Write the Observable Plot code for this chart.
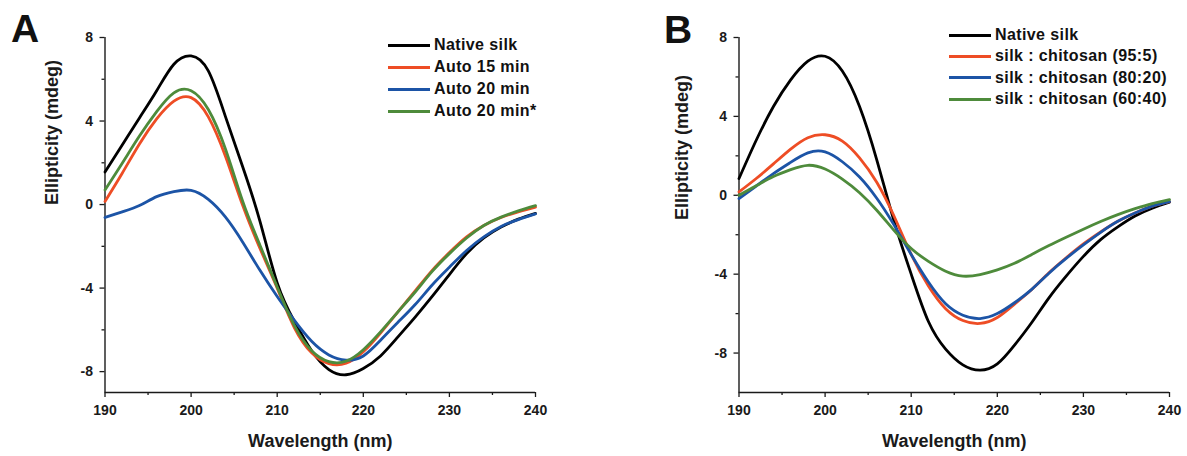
<!DOCTYPE html>
<html><head><meta charset="utf-8">
<script src="https://cdn.jsdelivr.net/npm/d3@7"></script>
<script src="https://cdn.jsdelivr.net/npm/@observablehq/plot@0.6"></script>
<style>
body{margin:0;background:#fff;}
#wrap{position:relative;width:1187px;height:456px;overflow:hidden;font-family:"Liberation Sans",Arial,sans-serif;color:#111;}
.panel{position:absolute;top:0;}
.letter{position:absolute;font-weight:bold;font-size:39px;line-height:39px;}
.legend{position:absolute;font-weight:bold;font-size:16px;letter-spacing:0.4px;}
.legend .row{position:absolute;left:0;white-space:nowrap;display:flex;align-items:center;height:20px;}
.legend .sw{width:42px;height:3px;margin-right:4px;}
</style></head>
<body>
<div id="wrap"></div>
<script>
// ---- data ----
const wavelength = [190,192,194,196,198,200,202,204,206,208,210,212,214,216,218,220,222,224,226,228,230,232,234,236,238,240];

const seriesA = ["Native silk", "Auto 15 min", "Auto 20 min", "Auto 20 min*"];
const seriesB = ["Native silk", "silk : chitosan (95:5)", "silk : chitosan (80:20)", "silk : chitosan (60:40)"];
const colors = ["#000000", "#ee4d25", "#1c54a6", "#4e8b3b"];

// Panel A
const aNative  = [1.56, 2.85, 4.15, 5.45, 6.72, 7.12, 6.4, 4.2, 1.8, -0.8, -3.75, -5.6, -7.0, -7.9, -8.15, -7.85, -7.25, -6.35, -5.4, -4.4, -3.35, -2.35, -1.6, -1.08, -0.7, -0.42];
const aAuto15  = [0.15, 1.5, 2.9, 4.1, 4.95, 5.12, 4.2, 2.3, -0.05, -2.1, -4.0, -5.9, -7.1, -7.62, -7.6, -7.05, -6.15, -5.15, -4.15, -3.15, -2.3, -1.55, -1.0, -0.62, -0.35, -0.12];
const aAuto20  = [-0.62, -0.35, -0.05, 0.38, 0.62, 0.68, 0.25, -0.6, -1.8, -3.15, -4.4, -5.55, -6.55, -7.2, -7.45, -7.25, -6.5, -5.65, -4.8, -3.85, -3.0, -2.2, -1.55, -1.05, -0.72, -0.45];
const aAuto20s = [0.7, 1.98, 3.28, 4.45, 5.35, 5.45, 4.55, 2.65, 0.15, -1.95, -3.95, -5.8, -7.0, -7.52, -7.5, -6.95, -6.1, -5.15, -4.2, -3.2, -2.35, -1.6, -1.0, -0.6, -0.3, -0.05];

// Panel B
const bNative = [0.85, 2.79, 4.5, 5.85, 6.8, 7.05, 6.3, 4.5, 1.8, -1.3, -4.0, -6.4, -7.8, -8.6, -8.87, -8.55, -7.6, -6.45, -5.2, -4.1, -3.1, -2.25, -1.6, -1.05, -0.65, -0.35];
const b95     = [0.17, 0.85, 1.59, 2.34, 2.92, 3.07, 2.75, 1.9, 0.66, -1.05, -3.0, -4.6, -5.75, -6.35, -6.5, -6.2, -5.52, -4.78, -3.93, -3.17, -2.47, -1.86, -1.32, -0.9, -0.55, -0.32];
const b80     = [-0.17, 0.47, 1.1, 1.67, 2.15, 2.2, 1.7, 0.93, -0.15, -1.5, -3.0, -4.4, -5.5, -6.08, -6.25, -6.0, -5.45, -4.77, -3.95, -3.2, -2.52, -1.88, -1.32, -0.9, -0.55, -0.32];
const b60     = [0.0, 0.48, 0.95, 1.3, 1.52, 1.33, 0.82, 0.13, -0.76, -1.78, -2.7, -3.35, -3.85, -4.1, -4.02, -3.78, -3.45, -3.0, -2.55, -2.13, -1.72, -1.33, -0.98, -0.68, -0.42, -0.22];

// ticks
const xTicks = [190, 200, 210, 220, 230, 240];
const xMinor = [195, 205, 215, 225, 235];
const yTicks = [-8, -4, 0, 4, 8];
const yMinor = [-6, -2, 2, 6];
const xTitle = "Wavelength (nm)";
const yTitle = "Ellipticity (mdeg)";

// ---- drawing ----
const wrap = document.getElementById("wrap");
const FONT = '"Liberation Sans", Arial, sans-serif';
const AX = "#1a1a1a";

function panel(names, values, cfg) {
  const rows = names.flatMap((n, i) => wavelength.map((w, j) => ({series: n, w, v: values[i][j]})));
  return Plot.plot({
    width: cfg.width, height: 456,
    marginLeft: cfg.ml, marginRight: cfg.mr, marginTop: 37, marginBottom: 64,
    x: {domain: [190, 240]},
    y: {domain: cfg.yDomain},
    color: {domain: names, range: colors},
    style: {fontFamily: FONT, fontSize: "14px", fontWeight: "bold", color: AX, background: "transparent", overflow: "visible"},
    marks: [
      Plot.axisX(xTicks, {tickSize: 5, tickPadding: 8, fontSize: 14, fontWeight: "bold", label: null, tickFormat: d => String(d), strokeWidth: 1.3}),
      Plot.axisX(xMinor, {tickSize: 3, label: null, tickFormat: () => "", strokeWidth: 1.3}),
      Plot.axisY(yTicks, {tickSize: 5, tickPadding: 7, fontSize: 14, fontWeight: "bold", label: null, tickFormat: d => String(d), strokeWidth: 1.3}),
      Plot.axisY(yMinor, {tickSize: 3, label: null, tickFormat: () => "", strokeWidth: 1.3}),
      Plot.ruleX([190], {stroke: AX, strokeWidth: 1.4}),
      Plot.ruleY([cfg.yDomain[0]], {stroke: AX, strokeWidth: 1.4}),
      Plot.line(rows, {x: "w", y: "v", z: "series", stroke: "series", strokeWidth: 2.8, curve: "natural"}),
      Plot.text([xTitle], {frameAnchor: "bottom", dy: 54, fontSize: 18, fontWeight: "bold", fill: AX}),
      Plot.text([yTitle], {frameAnchor: "left", dx: cfg.ytdx, dy: cfg.ytdy, rotate: -90, fontSize: 18, fontWeight: "bold", fill: AX})
    ]
  });
}

function place(el, left) {
  el.classList.add("panel");
  el.style.left = left + "px";
  wrap.appendChild(el);
}

place(panel(seriesA, [aNative, aAuto15, aAuto20, aAuto20s], {width: 594, ml: 104.5, mr: 59, yDomain: [-9, 8], ytdx: -53, ytdy: -10}), 0);
place(panel(seriesB, [bNative, b95, b80, b60], {width: 593, ml: 144.5, mr: 18, yDomain: [-10, 8], ytdx: -57, ytdy: 5}), 594);

function letter(t, left, top) {
  const d = document.createElement("div");
  d.className = "letter"; d.textContent = t;
  d.style.left = left + "px"; d.style.top = top + "px";
  wrap.appendChild(d);
}
letter("A", 11, 9);
letter("B", 664, 10);

function legend(names, left, tops) {
  const g = document.createElement("div");
  g.className = "legend"; g.style.left = left + "px"; g.style.top = "0px";
  names.forEach((n, i) => {
    const r = document.createElement("div");
    r.className = "row"; r.style.top = (tops[i] - 10) + "px";
    const s = document.createElement("span");
    s.className = "sw"; s.style.background = colors[i];
    const t = document.createElement("span");
    t.textContent = n;
    r.appendChild(s); r.appendChild(t);
    g.appendChild(r);
  });
  wrap.appendChild(g);
}
legend(seriesA, 388, [45, 67, 89, 111]);
legend(seriesB, 949, [35, 56, 77.5, 99]);
</script>
</body></html>
